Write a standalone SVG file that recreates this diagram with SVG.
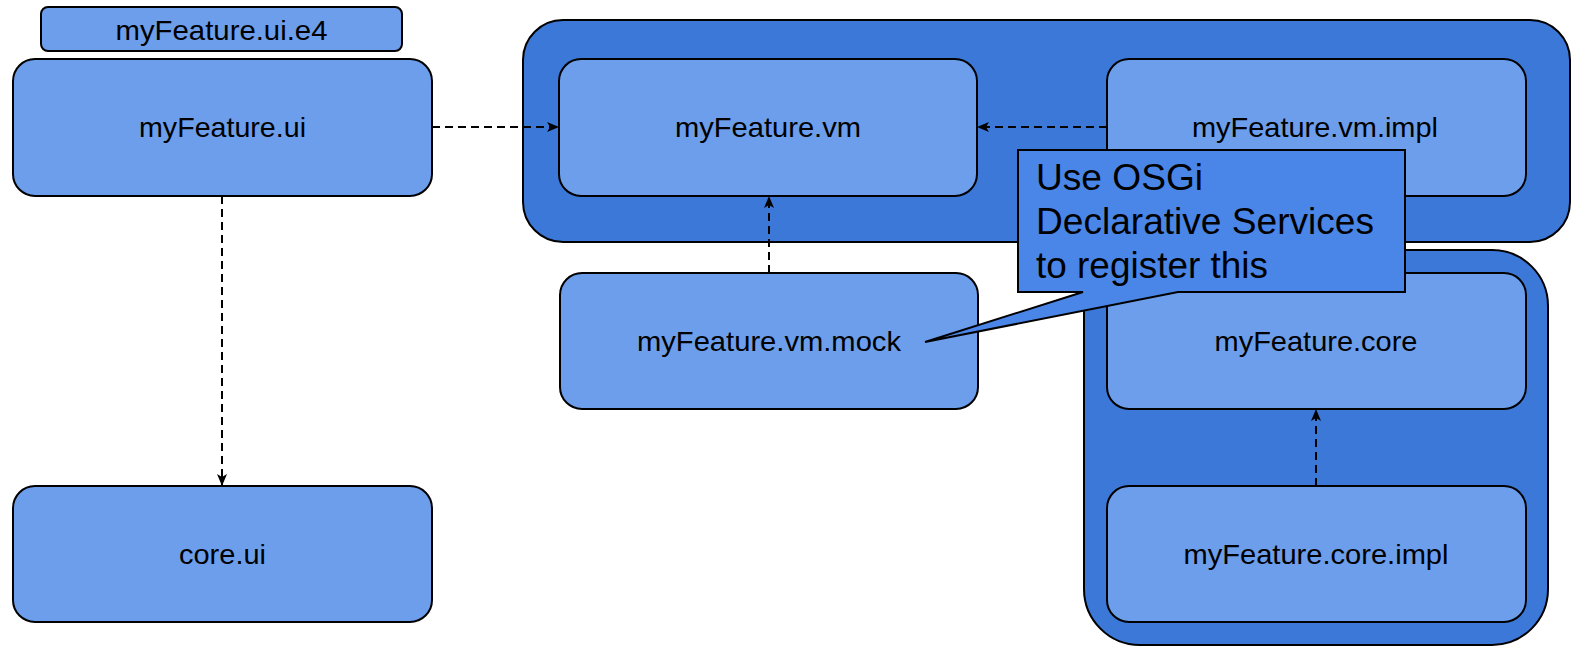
<svg xmlns="http://www.w3.org/2000/svg" width="1571" height="646" viewBox="0 0 1571 646">
<style>
.node{fill:#6d9eeb;stroke:#000;stroke-width:2}
.cont{fill:#3c78d8;stroke:#000;stroke-width:2}
.lbl{font-family:"Liberation Sans",Arial,sans-serif;font-size:28.5px;fill:#000;text-anchor:middle}
.call{font-family:"Liberation Sans",Arial,sans-serif;font-size:37px;fill:#000}
.edge{fill:none;stroke:#000;stroke-width:2;stroke-dasharray:8,5}
</style>
<defs>
<marker id="arr" viewBox="0 0 12 10" refX="11" refY="5" markerWidth="12" markerHeight="10" markerUnits="userSpaceOnUse" orient="auto">
<path d="M0,0 L12,5 L0,10 L3,5 Z" fill="#000"/>
</marker>
</defs>
<rect width="1571" height="646" fill="#fff"/>
<g id="container-vm"><rect class="cont" x="523" y="20" width="1047" height="222" rx="40" ry="40"/></g>
<g id="container-core"><rect class="cont" x="1084" y="250" width="464" height="395" rx="56" ry="56"/></g>
<g id="n-ui-e4"><rect class="node" x="41" y="7" width="361" height="44" rx="7" ry="7"/><text class="lbl" x="221.5" y="40" textLength="212" lengthAdjust="spacingAndGlyphs">myFeature.ui.e4</text></g>
<g id="n-ui"><rect class="node" x="13" y="59" width="419" height="137" rx="22" ry="22"/><text class="lbl" x="222.5" y="137" textLength="167" lengthAdjust="spacingAndGlyphs">myFeature.ui</text></g>
<g id="n-coreui"><rect class="node" x="13" y="486" width="419" height="136" rx="22" ry="22"/><text class="lbl" x="222.5" y="564" textLength="87" lengthAdjust="spacingAndGlyphs">core.ui</text></g>
<g id="n-vm"><rect class="node" x="559" y="59" width="418" height="137" rx="22" ry="22"/><text class="lbl" x="768" y="137" textLength="186" lengthAdjust="spacingAndGlyphs">myFeature.vm</text></g>
<g id="n-vmimpl"><rect class="node" x="1107" y="59" width="419" height="137" rx="22" ry="22"/><text class="lbl" x="1315" y="137" textLength="246" lengthAdjust="spacingAndGlyphs">myFeature.vm.impl</text></g>
<g id="n-vmmock"><rect class="node" x="560" y="273" width="418" height="136" rx="22" ry="22"/><text class="lbl" x="769" y="351" textLength="264" lengthAdjust="spacingAndGlyphs">myFeature.vm.mock</text></g>
<g id="n-core"><rect class="node" x="1107" y="273" width="419" height="136" rx="22" ry="22"/><text class="lbl" x="1316" y="351" textLength="203" lengthAdjust="spacingAndGlyphs">myFeature.core</text></g>
<g id="n-coreimpl"><rect class="node" x="1107" y="486" width="419" height="136" rx="22" ry="22"/><text class="lbl" x="1316" y="564" textLength="265" lengthAdjust="spacingAndGlyphs">myFeature.core.impl</text></g>
<g id="connectors">
<line class="edge" x1="432" y1="127" x2="558" y2="127" marker-end="url(#arr)"/>
<line class="edge" x1="1107" y1="127" x2="978" y2="127" marker-end="url(#arr)"/>
<line class="edge" x1="769" y1="273" x2="769" y2="197" marker-end="url(#arr)"/>
<line class="edge" x1="222" y1="196" x2="222" y2="485" marker-end="url(#arr)"/>
<line class="edge" x1="1316" y1="486" x2="1316" y2="410" marker-end="url(#arr)"/>
</g>
<g id="callout">
<path d="M1018,150 L1405,150 L1405,292 L1178,292 L925,342 L1083,292 L1018,292 Z" fill="#4a86e8" stroke="#000" stroke-width="2" stroke-linejoin="miter"/>
<text class="call" x="1036" y="190" textLength="167" lengthAdjust="spacingAndGlyphs">Use OSGi</text>
<text class="call" x="1036" y="234" textLength="338" lengthAdjust="spacingAndGlyphs">Declarative Services</text>
<text class="call" x="1036" y="278" textLength="232" lengthAdjust="spacingAndGlyphs">to register this</text>
</g>
</svg>
